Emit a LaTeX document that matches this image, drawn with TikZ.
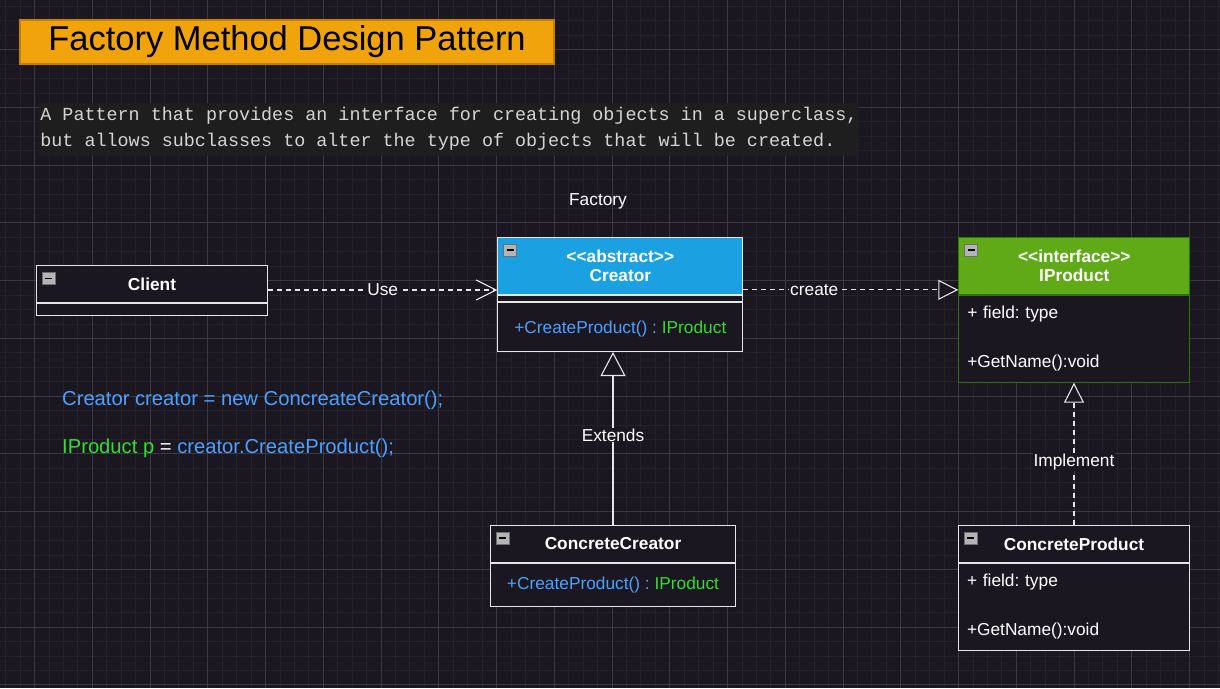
\documentclass[tikz,border=0pt]{standalone}
\usepackage{fontspec}
\setmainfont{Liberation Sans}
\setmonofont{Liberation Mono}
\usetikzlibrary{arrows.meta,positioning}
\frenchspacing
\definecolor{bgcol}{HTML}{1A1720}
\definecolor{minorcol}{HTML}{24212A}
\definecolor{majorcol}{HTML}{3C3943}
\definecolor{boxline}{HTML}{E6E6E6}
\definecolor{linecol}{HTML}{E6E6E6}
\definecolor{titlefill}{HTML}{F0A30A}
\definecolor{titleedge}{HTML}{C77F00}
\definecolor{descfill}{HTML}{1E1E1E}
\definecolor{desctext}{HTML}{D4D4D4}
\definecolor{headblue}{HTML}{1BA1E2}
\definecolor{headgreen}{HTML}{60A917}
\definecolor{edgegreen}{HTML}{2D7600}
\definecolor{codeblue}{HTML}{4DA0FF}
\definecolor{codegreen}{HTML}{33DD33}
\definecolor{btnfill}{HTML}{B4B4B4}
\definecolor{btnedge}{HTML}{6E6E6E}
\newcommand{\stereo}[1]{<\kern0pt<#1>\kern0pt>}
\tikzset{
  umlfont/.style={font=\fontsize{17.3}{19.5}\selectfont},
  classhead/.style={draw=boxline,fill=bgcol,line width=1pt,inner sep=0pt,text=white,align=center,font=\fontsize{17.3}{19.5}\selectfont\bfseries},
  classbody/.style={draw=boxline,fill=bgcol,line width=1pt,inner sep=0pt,text=white,umlfont},
  minbtn/.style={fill=btnfill,draw=btnedge,line width=0.8pt,minimum width=13pt,minimum height=12pt,inner sep=0pt,
    path picture={\draw[black,line width=1.6pt] ([xshift=3pt]path picture bounding box.west) -- ([xshift=-3pt]path picture bounding box.east);}},
  lbl/.style={fill=bgcol,text=white,inner sep=1pt,umlfont},
  conn/.style={draw=linecol,line width=1.1pt},
  dep/.style={conn,dash pattern=on 5pt off 4pt},
  codeline/.style={anchor=west,inner sep=0pt,font=\fontsize{20.2}{24}\selectfont},
}
\begin{document}
\begin{tikzpicture}[x=1pt,y=-1pt]
\fill[bgcol] (0,0) rectangle (1220,688);
\useasboundingbox (0,0) rectangle (1220,688);
\foreach \i in {0,...,84} \draw[minorcol,line width=0.8pt] ({5.6+14.4375*\i},0) -- ++(0,688);
\foreach \i in {0,...,47} \draw[minorcol,line width=0.8pt] (0,{6.3+14.4375*\i}) -- ++(1220,0);
\foreach \i in {0,...,20} \draw[majorcol,line width=0.8pt] ({34.5+57.75*\i},0) -- ++(0,688);
\foreach \i in {0,...,11} \draw[majorcol,line width=0.8pt] (0,{49.6+57.75*\i}) -- ++(1220,0);

\node[fill=titlefill,draw=titleedge,line width=1.3pt,minimum width=534pt,minimum height=44pt,inner sep=0pt,
  font=\fontsize{34.5}{40}\selectfont] (title) at (287,42) {Factory Method Design Pattern};
\node[fill=descfill,text=desctext,anchor=north west,align=left,inner xsep=1.5pt,inner ysep=0pt,minimum height=52.6pt,
  font=\ttfamily\fontsize{18.4}{26}\selectfont] (desc) at (38.7,102.7)
  {A Pattern that provides an interface for creating objects in a superclass,\\but allows subclasses to alter the type of objects that will be created.};
\node[text=white,umlfont] (factory) at (598,201) {Factory};

\node[classhead,minimum width=231pt,minimum height=37pt,anchor=north west] (client) at (36,265) {Client};
\node[classbody,minimum width=231pt,minimum height=12pt,below=0pt of client] (clientbody) {};
\node[minbtn,anchor=north west] (clientbtn) at ([xshift=6pt,yshift=-7pt]client.north west) {};

\node[classhead,fill=headblue,minimum width=245pt,minimum height=57.3pt,anchor=north west] (creator) at (497.3,236.7) {\stereo{abstract}\\Creator};
\node[classbody,minimum width=245pt,minimum height=6pt,below=0pt of creator] (creatorattr) {};
\node[classbody,minimum width=245pt,minimum height=49pt,text depth=-1pt,below=0pt of creatorattr] (creatorbody)
  {\color{codeblue}+CreateProduct() : \color{codegreen}IProduct};
\node[minbtn,anchor=north west] (creatorbtn) at ([xshift=6pt,yshift=-7pt]creator.north west) {};

\node[classhead,fill=headgreen,draw=edgegreen,minimum width=231pt,minimum height=57.6pt,anchor=north west] (iproduct) at (958.3,236.7) {\stereo{interface}\\IProduct};
\node[classbody,draw=edgegreen,minimum width=231pt,minimum height=86.4pt,text width=214pt,align=left,below=0pt of iproduct] (iproductbody)
  {+ field: type\\[29.5pt]+GetName():void};
\node[minbtn,anchor=north west] (iproductbtn) at ([xshift=6pt,yshift=-7pt]iproduct.north west) {};

\node[classhead,minimum width=245pt,minimum height=37.6pt,anchor=north west] (concretecreator) at (490,524.7) {ConcreteCreator};
\node[classbody,minimum width=245pt,minimum height=42.7pt,below=0pt of concretecreator] (concretecreatorbody)
  {\color{codeblue}+CreateProduct() : \color{codegreen}IProduct};
\node[minbtn,anchor=north west] (concretecreatorbtn) at ([xshift=6pt,yshift=-7pt]concretecreator.north west) {};

\node[classhead,minimum width=231pt,minimum height=37.6pt,anchor=north west] (concreteproduct) at (958,524.7) {ConcreteProduct};
\node[classbody,minimum width=231pt,minimum height=86.4pt,text width=214pt,align=left,below=0pt of concreteproduct] (concreteproductbody)
  {+ field: type\\[29.5pt]+GetName():void};
\node[minbtn,anchor=north west] (concreteproductbtn) at ([xshift=6pt,yshift=-7pt]concreteproduct.north west) {};

\draw[dep,-{Straight Barb[length=20pt,width=20pt]}] ([yshift=-6pt]client.east) -- node[lbl]{Use} ([yshift=-6pt]client.east -| creator.west);
\draw[dep,-{Triangle[length=20pt,width=20pt,fill=bgcol]}] ([yshift=-24pt]creator.east) -- node[lbl,pos=.33]{create} ([yshift=-24pt]creator.east -| iproduct.west);
\draw[conn,-{Triangle[length=24pt,width=25pt,fill=bgcol]}] (concretecreator.north) -- node[lbl,pos=.52]{Extends} (concretecreator.north |- creatorbody.south);
\draw[dep,-{Triangle[length=20pt,width=20pt,fill=bgcol]}] (concreteproduct.north) -- node[lbl,pos=.44]{Implement} (concreteproduct.north |- iproductbody.south);

\node[codeline,text=codeblue] (codeone) at (62,400.7) {Creator creator = new ConcreateCreator();};
\node[codeline] (codetwo) at (62,448.3) {\color{codegreen}IProduct p \color{white}= \color{codeblue}creator.CreateProduct();};
\end{tikzpicture}
\end{document}
